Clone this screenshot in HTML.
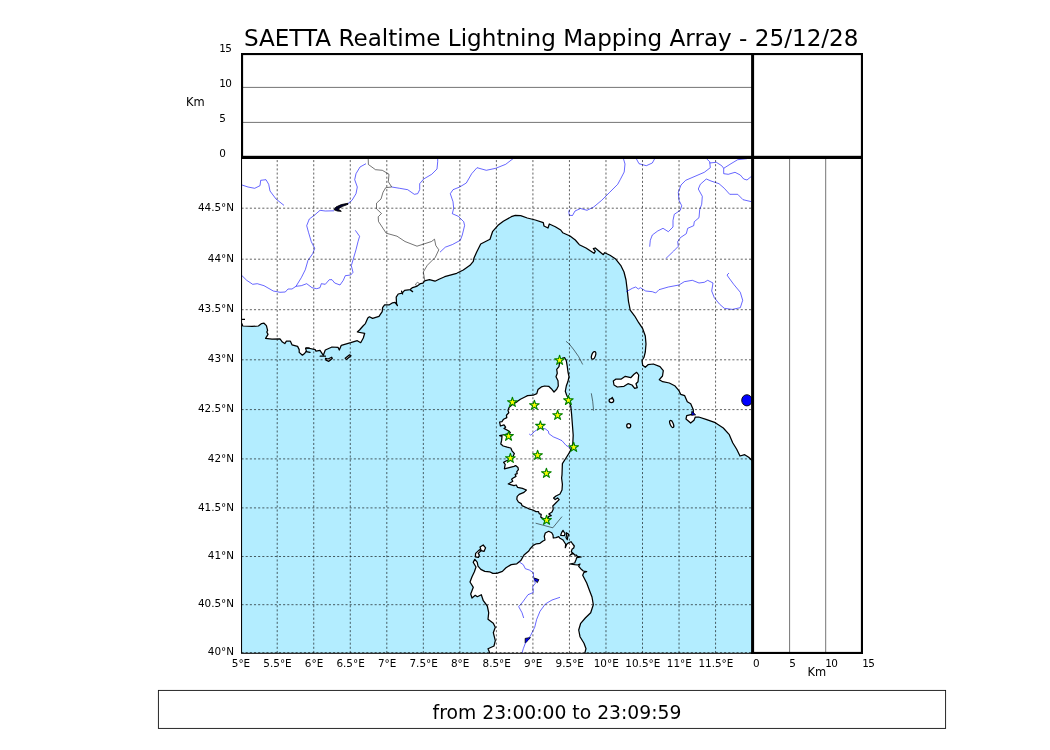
<!DOCTYPE html>
<html lang="en"><head><meta charset="utf-8"><title>SAETTA Realtime Lightning Mapping Array</title>
<style>html,body{margin:0;padding:0;background:#fff}body{width:1050px;height:750px;position:relative;overflow:hidden}</style>
</head><body>
<svg width="1050" height="750" viewBox="0 0 1050 750" style="position:absolute;left:0;top:0;display:block" font-family='"DejaVu Sans","Liberation Sans",sans-serif' fill="#000">
<rect width="1050" height="750" fill="#fff"/>
<defs><clipPath id="mc"><rect x="241.5" y="157.5" width="511.0" height="495.5"/></clipPath></defs>
<g clip-path="url(#mc)">
<rect x="241.5" y="157.5" width="511.0" height="495.5" fill="#b3edff"/>
<g fill="#fff" stroke="#000" stroke-width="1.25" stroke-linejoin="round">
<path d="M241.6 323.2 L242.8 326.0 L252.0 326.4 L258.4 326.0 L261.6 323.6 L264.0 323.2 L266.4 325.6 L267.6 330.4 L266.8 332.0 L268.0 334.4 L265.6 338.4 L272.0 339.2 L280.0 338.8 L282.4 342.0 L284.8 343.6 L286.4 341.2 L290.4 341.2 L292.0 344.8 L297.6 346.4 L299.2 349.6 L299.2 352.4 L302.4 355.2 L304.8 353.2 L306.4 351.2 L305.6 348.4 L308.0 348.0 L315.2 349.6 L316.0 351.2 L320.0 350.4 L323.3 355.3 L325.3 350.0 L332.0 347.0 L338.0 347.3 L339.3 350.0 L341.3 345.3 L350.7 342.7 L357.3 340.7 L360.7 342.7 L363.3 338.0 L364.7 333.3 L357.3 332.0 L359.5 330.0 L363.0 326.0 L365.4 323.6 L367.8 318.0 L369.4 316.8 L372.6 318.4 L379.0 316.4 L382.2 311.6 L382.6 307.6 L384.6 304.8 L389.4 304.8 L392.6 302.8 L395.0 302.4 L396.6 304.4 L396.2 297.2 L398.2 294.0 L402.2 293.2 L404.6 290.4 L410.2 289.6 L412.6 287.6 L416.6 286.4 L420.6 283.6 L423.0 283.2 L424.6 280.8 L429.4 279.6 L435.0 281.2 L439.0 279.2 L444.7 276.7 L456.7 273.3 L463.3 270.0 L470.0 265.3 L473.3 261.3 L474.0 258.0 L476.7 252.0 L480.7 244.0 L490.0 239.3 L492.7 231.3 L498.0 225.3 L503.3 221.3 L511.3 216.7 L515.3 215.3 L520.7 215.7 L527.3 218.0 L535.3 220.0 L543.3 222.7 L544.0 226.0 L548.0 228.0 L549.3 224.0 L555.3 226.7 L560.7 230.0 L562.7 232.7 L570.0 236.0 L575.3 240.0 L579.3 244.7 L586.0 248.0 L594.0 253.3 L595.3 251.3 L593.3 248.7 L595.3 248.0 L603.3 254.7 L604.7 252.7 L610.0 255.3 L615.3 258.7 L620.7 265.3 L624.0 272.0 L626.0 280.0 L627.3 290.7 L628.5 301.5 L630.2 310.0 L634.7 316.0 L638.7 322.7 L642.7 328.7 L645.3 336.0 L646.0 344.0 L645.3 352.0 L644.0 357.3 L642.0 360.7 L642.7 365.3 L645.3 367.3 L648.0 364.7 L653.3 364.0 L660.0 366.7 L663.3 370.7 L662.5 376.0 L659.3 379.7 L662.7 381.7 L669.3 383.0 L674.7 385.7 L678.7 390.3 L680.7 394.3 L684.7 395.7 L687.3 401.7 L690.7 403.7 L693.3 409.7 L693.3 413.7 L692.0 414.3 L686.7 415.7 L686.0 419.0 L690.7 423.0 L694.0 420.3 L695.3 417.0 L698.7 417.0 L706.0 419.3 L715.3 422.7 L723.3 428.0 L729.3 434.7 L732.7 442.7 L736.7 449.3 L740.0 456.0 L744.7 454.7 L748.7 457.3 L752.5 461.0 L760.0 461.0 L760.0 150.0 L235.0 150.0 L235.0 323.2 Z"/>
<path d="M562.7 358.0 L564.7 357.7 L566.3 360.7 L567.3 366.7 L568.0 372.0 L569.0 376.7 L568.0 381.3 L566.3 386.0 L565.3 391.3 L566.7 395.3 L568.2 398.5 L570.8 406.4 L571.6 414.4 L572.4 424.8 L573.2 435.2 L572.8 443.6 L570.0 451.6 L566.0 458.0 L562.4 463.6 L562.0 474.8 L561.6 478.0 L562.4 484.4 L562.0 490.0 L560.0 494.0 L556.0 496.0 L553.6 498.0 L555.2 499.6 L557.6 498.0 L559.2 499.6 L556.0 502.8 L552.8 506.0 L553.2 509.2 L552.0 512.0 L548.8 514.0 L551.2 515.6 L548.8 516.4 L547.5 518.5 L544.5 519.0 L542.4 518.0 L540.8 517.2 L541.2 514.4 L539.2 513.6 L538.4 511.6 L536.0 511.6 L532.8 510.0 L528.8 508.8 L525.6 507.2 L522.0 505.6 L521.2 503.6 L518.4 502.0 L516.8 499.2 L517.2 496.4 L519.2 494.4 L524.0 492.4 L526.4 490.0 L522.4 488.4 L517.6 487.4 L516.2 485.0 L514.0 485.6 L511.4 484.8 L508.2 484.0 L512.8 481.2 L511.6 479.2 L513.2 478.0 L516.0 476.4 L515.2 474.4 L517.2 473.6 L516.8 471.6 L518.4 469.6 L518.0 467.6 L515.6 465.6 L514.0 466.4 L509.2 467.6 L504.4 468.8 L505.2 464.4 L503.6 462.4 L506.0 461.0 L509.5 459.5 L513.0 456.5 L514.4 453.6 L512.0 450.8 L510.8 448.0 L507.2 447.2 L503.2 446.0 L500.8 444.0 L501.6 440.4 L502.0 436.4 L499.6 435.6 L505.0 434.5 L510.4 432.8 L509.2 431.2 L504.0 428.4 L505.6 427.2 L504.0 424.8 L500.4 426.0 L499.6 422.0 L502.0 421.6 L503.6 419.2 L506.8 417.6 L506.4 415.2 L508.8 412.8 L508.0 410.4 L509.2 407.2 L512.5 404.5 L517.2 401.6 L520.4 399.2 L524.4 397.2 L527.6 395.6 L533.2 395.2 L536.8 393.6 L538.0 389.5 L541.3 386.9 L544.7 386.0 L548.7 386.3 L551.3 388.7 L554.0 392.0 L556.7 389.3 L558.3 386.0 L558.0 380.7 L556.0 376.7 L557.3 373.3 L556.7 369.3 L559.0 366.7 L559.3 364.3 L560.0 361.0 Z"/>
<path d="M474.8 559.4 L477.2 562.2 L478.0 566.2 L480.8 569.4 L484.8 571.4 L489.6 571.8 L492.8 573.4 L496.8 573.4 L502.4 571.4 L506.0 567.8 L511.2 564.6 L516.8 563.8 L520.8 560.6 L524.0 555.0 L528.8 551.0 L530.0 549.0 L533.2 545.4 L536.4 543.8 L540.0 543.3 L542.7 541.3 L545.0 540.0 L544.3 536.3 L545.3 533.0 L548.7 531.3 L551.7 532.7 L553.0 535.0 L553.3 538.0 L556.0 537.7 L558.7 536.7 L560.0 538.3 L562.7 539.7 L564.3 542.0 L565.7 544.3 L565.3 547.7 L566.7 544.3 L568.7 542.7 L571.0 541.7 L572.7 544.0 L574.3 546.0 L573.7 548.0 L572.0 549.3 L571.3 551.7 L572.7 553.0 L570.0 555.3 L573.3 553.3 L574.7 555.0 L576.3 555.0 L577.3 556.3 L581.3 557.0 L576.7 557.7 L576.0 559.7 L574.7 563.0 L569.7 564.0 L574.7 564.7 L577.3 565.0 L580.0 564.0 L578.7 566.3 L580.7 568.7 L583.3 571.0 L586.7 571.7 L584.0 572.3 L582.7 575.3 L586.7 583.0 L589.5 590.5 L592.0 597.0 L593.3 604.7 L590.7 612.7 L585.3 618.0 L580.7 623.3 L578.7 630.0 L580.0 636.7 L584.0 643.3 L586.0 648.7 L584.7 653.5 L490.0 653.5 L488.0 648.7 L494.0 646.0 L495.3 640.7 L493.3 632.7 L495.3 627.3 L493.3 623.3 L488.0 619.3 L488.7 612.7 L487.3 606.0 L483.3 600.7 L481.3 594.7 L477.3 596.7 L475.3 595.3 L472.0 598.0 L470.7 594.0 L473.3 587.3 L470.0 582.0 L472.0 576.7 L474.4 571.8 L476.0 567.0 L473.2 562.2 Z"/>
<path d="M613.3 381.0 L616.0 379.0 L621.3 379.0 L625.3 376.3 L630.7 377.7 L634.0 374.3 L636.7 372.3 L638.7 375.0 L638.0 381.7 L636.0 383.7 L637.3 387.7 L634.7 388.3 L632.0 385.0 L628.0 383.7 L624.0 386.3 L617.3 387.0 L614.0 385.0 Z"/>
<path d="M480.0 547.0 L483.2 545.0 L485.6 547.8 L484.0 551.4 L481.2 550.6 Z"/>
<path d="M479.6 549.6 L475.6 553.4 L475.4 556.8 L478.4 557.4 L479.4 555.0 L478.2 553.4 L481.0 550.8 Z"/>
<path d="M560.7 535.3 L561.6 532.6 L563.0 530.3 L565.0 533.7 L564.3 535.7 Z"/>
<path d="M566.3 532.7 L568.7 534.3 L567.7 537.0 L567.3 539.7 L566.0 537.7 L566.6 535.0 Z"/>
<path d="M325.5 358.3 L328.0 359.0 L331.7 357.2 L332.3 358.6 L328.8 361.3 L326.0 360.2 Z"/>
<path d="M345.2 358.2 L349.6 354.8 L351.0 355.8 L346.4 359.4 Z"/>
<path d="M611.6 398.6 L612.2 397.4 L612.8 398.6 Z"/>
<ellipse cx="593.6" cy="355.3" rx="1.9" ry="3.9" transform="rotate(18 593.6 355.3)"/>
<ellipse cx="611.4" cy="400.6" rx="2.3" ry="2.0" transform="rotate(0 611.4 400.6)"/>
<ellipse cx="628.7" cy="425.7" rx="2.0" ry="2.2" transform="rotate(0 628.7 425.7)"/>
<ellipse cx="671.7" cy="424.0" rx="1.6" ry="3.8" transform="rotate(-22 671.7 424.0)"/>
</g>
<path d="M306 347.8 L309.3 348.2 M306.2 351.6 L310 352.4 M320.2 356.2 L325.4 356.2 M396 303 L397.4 305.6 M401.6 291.2 L402.6 294 M410.4 290 L412.6 291.6" stroke="#000" stroke-width="1.3" fill="none" stroke-linecap="round"/>
<path d="M241.5 319.3 H245" stroke="#000" stroke-width="1.2" fill="none"/>
<g fill="#0000ff" stroke="#000" stroke-width="0.9" stroke-linejoin="round">
<ellipse cx="746.9" cy="400.3" rx="5.2" ry="5.6"/>
<path d="M691.8 411.3 L695.6 414.8 L691.6 415.3 Z"/>
<path d="M534.2 578 L538.8 579.6 L537.4 582.6 L535 580.6 Z"/>
<path d="M525.2 638.4 L530.4 637.6 L528 640.4 L525.2 643 Z"/>
</g>
<path d="M348 203.3 L341.3 204.6 L336 207 L334 209.7 L337.3 211 L341.3 211.3 L338 209 L342.7 206.3 L348 204.3 Z" fill="#000030" stroke="#000" stroke-width="0.9" stroke-linejoin="round"/>
<g fill="none" stroke="#000" stroke-width="0.55" stroke-linejoin="round">
<path d="M368.2 158.5 L368.4 164.5 L375.5 169.7 L382.3 170.3 L389.0 174.3 L388.3 181.7 L391.7 187.0 L385.7 187.7 L383.0 192.3 L381.0 199.0 L376.5 203.2 L376.5 208.8 L381.5 213.5 L378.2 216.8 L378.5 221.5 L386.2 233.2 L397.0 236.2 L405.0 241.5 L417.0 246.2 L431.5 241.5 L434.5 239.2 L435.8 245.5 L438.8 249.8 L435.3 257.3 L427.3 265.3 L423.3 272.0 L424.7 280.0"/>
<path d="M416.5 286.2 L415.5 284.0 L417.5 282.4 L419.6 283.6"/>
<path d="M566.0 341.3 L569.3 344.0 L574.0 350.0 L578.7 356.7 L582.7 364.5"/>
<path d="M591.3 393.3 L592.7 401.3 L593.6 410.7"/>
<path d="M535.6 523.2 L552.8 527.8 L562.0 516.6"/>
</g>
<g fill="none" stroke="#0000ff" stroke-width="0.6" stroke-linejoin="round">
<path d="M242.0 185.0 L248.0 187.0 L254.7 188.3 L260.0 185.7 L260.7 180.3 L266.0 179.7 L268.7 184.3 L270.0 191.0 L276.0 199.0 L284.0 205.4"/>
<path d="M366.0 163.7 L360.0 167.0 L356.0 173.7 L354.7 179.7 L357.3 187.0 L356.0 193.7 L352.0 200.3 L348.0 203.5"/>
<path d="M334.0 210.8 L325.3 211.0 L320.0 210.3 L314.7 215.0 L309.3 219.0 L306.7 225.7 L308.5 232.3 L311.3 241.7 L314.7 248.3 L312.7 253.7 L308.0 260.3 L305.3 269.7 L301.3 277.7 L296.0 286.3"/>
<path d="M242.0 275.7 L246.7 280.3 L252.7 284.3 L257.3 283.7 L264.0 285.7 L273.3 291.0 L280.0 292.3 L285.3 292.0 L288.0 289.0 L292.0 289.0 L296.0 286.3 L301.3 285.7 L306.7 283.7 L312.0 287.7 L316.7 288.7 L320.0 287.7 L321.3 283.7 L325.3 284.3 L329.3 279.7 L332.0 279.7 L334.7 283.0 L340.0 285.0 L343.3 280.3 L345.3 275.7 L350.7 275.0 L353.0 272.3 L351.3 265.7 L353.3 259.0 L356.0 249.7 L358.0 241.7 L359.6 236.3 L355.3 230.3"/>
<path d="M391.7 187.0 L399.7 188.3 L407.7 189.7 L414.3 194.3 L417.7 193.7 L419.7 189.7 L419.7 183.7 L423.7 179.0 L431.7 174.3 L437.0 169.0 L437.7 161.7 L437.7 158.5"/>
<path d="M513.0 158.7 L505.7 164.3 L495.7 168.3 L486.3 170.3 L477.0 167.7 L471.7 173.7 L466.3 183.0 L459.7 187.0 L453.0 189.7 L450.3 193.7 L453.0 201.7 L453.7 208.3 L452.3 213.7 L458.3 216.3 L463.7 221.7 L464.6 225.5 L462.3 235.0 L460.3 240.3 L452.5 244.5 L445.3 247.2 L440.0 252.2"/>
<path d="M623.4 158.5 L625.0 164.0 L624.2 172.0 L620.3 179.5 L617.7 184.3 L609.7 192.3 L601.7 200.3 L593.7 207.0 L587.0 210.3 L580.5 208.5 L575.0 211.0 L572.5 215.5 L569.3 215.3 L568.8 211.3 L570.0 209.3"/>
<path d="M636.3 158.7 L639.0 163.7 L646.3 165.7 L652.3 163.0 L654.7 158.7"/>
<path d="M706.3 158.5 L709.7 161.7 L710.3 167.7 L704.3 172.3 L695.0 176.3 L685.7 180.3 L681.0 185.0 L678.3 192.3 L679.0 200.3 L681.7 205.7 L680.3 210.3 L674.3 214.3 L673.0 220.3 L673.0 227.0 L668.3 231.7 L663.0 228.3 L657.7 231.0 L652.3 235.0 L650.3 240.3 L649.7 246.7"/>
<path d="M709.7 163.0 L716.3 162.3 L721.7 165.7 L723.7 168.3 L731.0 163.7 L737.7 159.7 L747.0 158.7"/>
<path d="M723.7 168.3 L723.7 173.7 L728.3 174.3 L735.0 172.3 L740.3 175.0 L743.7 179.0 L747.0 180.0 L751.5 176.3"/>
<path d="M751.5 201.7 L743.0 199.7 L737.7 194.3 L729.7 194.3 L724.3 188.3 L719.0 183.7 L711.0 181.0 L706.3 179.0 L700.3 184.3 L698.3 189.0 L702.3 196.3 L701.7 204.3 L699.7 209.7 L699.0 217.7 L694.3 221.7 L693.7 225.7 L687.7 228.3 L686.3 233.7 L680.3 237.7 L677.7 241.7 L678.3 246.3 L673.7 251.0 L665.7 258.7"/>
<path d="M626.3 291.7 L632.3 288.3 L635.7 287.0 L638.3 289.0 L640.3 287.7 L645.7 291.0 L652.3 291.7 L655.7 293.0 L659.0 289.7 L668.3 287.0 L679.0 285.0 L684.3 281.7 L692.3 280.3 L699.0 283.0 L704.3 282.3 L707.7 280.3 L713.0 283.0 L711.7 291.0 L714.3 297.7 L719.7 304.3 L724.3 308.3 L732.3 309.4 L740.3 307.7 L742.7 300.3 L740.3 292.3 L733.7 284.3 L728.3 277.0 L727.0 275.0 L729.0 273.0"/>
<path d="M529.2 434.0 L530.8 435.2 L534.8 431.2 L538.0 429.2 L541.0 428.2 L545.2 428.8 L548.4 431.2 L548.8 433.6 L553.2 436.8 L558.0 438.8 L562.0 440.7 L566.0 445.3 L571.3 448.7"/>
<path d="M519.3 562.0 L523.3 564.7 L525.3 568.7 L529.3 570.0 L533.3 572.7 L533.6 577.3 L535.3 583.3 L532.7 586.7 L533.3 592.5 L528.0 594.7 L522.7 602.0 L518.7 606.7 L522.0 612.7 L523.7 618.0"/>
<path d="M560.0 597.3 L552.0 600.0 L545.3 604.0 L540.0 611.3 L536.7 619.3 L534.7 627.3 L530.7 635.3 L527.5 640.0 L525.3 643.3 L523.3 648.7 L522.0 653.0"/>
</g>
<g fill="none" stroke="#000" stroke-width="0.62" stroke-dasharray="2.08 2.08">
<path d="M277.21 653.0 V157.5"/>
<path d="M313.74 653.0 V157.5"/>
<path d="M350.27 653.0 V157.5"/>
<path d="M386.80 653.0 V157.5"/>
<path d="M423.33 653.0 V157.5"/>
<path d="M459.86 653.0 V157.5"/>
<path d="M496.39 653.0 V157.5"/>
<path d="M532.92 653.0 V157.5"/>
<path d="M569.45 653.0 V157.5"/>
<path d="M605.98 653.0 V157.5"/>
<path d="M642.51 653.0 V157.5"/>
<path d="M679.04 653.0 V157.5"/>
<path d="M715.57 653.0 V157.5"/>
<path d="M241.5 652.6 H752.5"/>
<path d="M241.5 604.7 H752.5"/>
<path d="M241.5 556.5 H752.5"/>
<path d="M241.5 507.9 H752.5"/>
<path d="M241.5 458.9 H752.5"/>
<path d="M241.5 409.6 H752.5"/>
<path d="M241.5 359.8 H752.5"/>
<path d="M241.5 309.7 H752.5"/>
<path d="M241.5 259.2 H752.5"/>
<path d="M241.5 208.2 H752.5"/>
</g>
<g fill="#ffff00" stroke="#008000" stroke-width="1.1" stroke-linejoin="round">
<polygon points="559.6,355.2 560.7,358.7 564.4,358.7 561.4,360.9 562.6,364.4 559.6,362.2 556.6,364.4 557.8,360.9 554.8,358.7 558.5,358.7"/>
<polygon points="512.4,397.2 513.5,400.7 517.2,400.7 514.2,402.9 515.4,406.4 512.4,404.2 509.4,406.4 510.6,402.9 507.6,400.7 511.3,400.7"/>
<polygon points="534.4,400.2 535.5,403.7 539.2,403.7 536.2,405.9 537.4,409.4 534.4,407.2 531.4,409.4 532.6,405.9 529.6,403.7 533.3,403.7"/>
<polygon points="568.4,395.3 569.5,398.8 573.2,398.8 570.2,401.0 571.4,404.5 568.4,402.3 565.4,404.5 566.6,401.0 563.6,398.8 567.3,398.8"/>
<polygon points="557.6,410.2 558.7,413.7 562.4,413.7 559.4,415.9 560.6,419.4 557.6,417.2 554.6,419.4 555.8,415.9 552.8,413.7 556.5,413.7"/>
<polygon points="540.4,420.9 541.5,424.4 545.2,424.4 542.2,426.6 543.4,430.1 540.4,427.9 537.4,430.1 538.6,426.6 535.6,424.4 539.3,424.4"/>
<polygon points="508.6,431.1 509.7,434.6 513.4,434.6 510.4,436.8 511.6,440.3 508.6,438.1 505.6,440.3 506.8,436.8 503.8,434.6 507.5,434.6"/>
<polygon points="573.7,442.2 574.8,445.7 578.5,445.7 575.5,447.9 576.7,451.4 573.7,449.2 570.7,451.4 571.9,447.9 568.9,445.7 572.6,445.7"/>
<polygon points="537.6,450.2 538.7,453.7 542.4,453.7 539.4,455.9 540.6,459.4 537.6,457.2 534.6,459.4 535.8,455.9 532.8,453.7 536.5,453.7"/>
<polygon points="510.4,453.2 511.5,456.7 515.2,456.7 512.2,458.9 513.4,462.4 510.4,460.2 507.4,462.4 508.6,458.9 505.6,456.7 509.3,456.7"/>
<polygon points="546.4,468.2 547.5,471.7 551.2,471.7 548.2,473.9 549.4,477.4 546.4,475.2 543.4,477.4 544.6,473.9 541.6,471.7 545.3,471.7"/>
<polygon points="546.6,515.2 547.7,518.6 551.4,518.6 548.4,520.8 549.6,524.3 546.6,522.1 543.6,524.3 544.8,520.8 541.8,518.6 545.5,518.6"/>
</g>
</g>
<rect x="241.55" y="157.5" width="510.9" height="495.8" fill="none" stroke="#000" stroke-width="1.04"/>
<g stroke="#000" stroke-width="0.55" fill="none">
<path d="M242 87.4 H752"/><path d="M242 122.4 H752"/>
<path d="M789.6 158 V653"/><path d="M825.7 158 V653"/>
</g>
<g fill="#000">
<rect x="241" y="53" width="622" height="2.1"/>
<rect x="241" y="53" width="2.1" height="105"/>
<rect x="860.9" y="53" width="2.1" height="601"/>
<rect x="241" y="155.8" width="622" height="3.2"/>
<rect x="751.1" y="53" width="3" height="601"/>
<rect x="751.1" y="651.9" width="111.9" height="2.1"/>
</g>
<rect x="158.4" y="690.4" width="787.2" height="38" fill="none" stroke="#111" stroke-width="0.9"/>
<text x="551.2" y="46" font-size="23.1" text-anchor="middle">SAETTA Realtime Lightning Mapping Array - 25/12/28</text>
<text x="557" y="718.6" font-size="18.75" text-anchor="middle">from 23:00:00 to 23:09:59</text>
<text x="219.3" y="51.7" font-size="10.42" text-anchor="start" letter-spacing="-0.7">15</text>
<text x="219.3" y="86.7" font-size="10.42" text-anchor="start" letter-spacing="-0.7">10</text>
<text x="219.3" y="121.7" font-size="10.42" text-anchor="start">5</text>
<text x="219.3" y="156.7" font-size="10.42" text-anchor="start">0</text>
<text x="186" y="105.5" font-size="11.46" text-anchor="start">Km</text>
<text x="753.0" y="666.8" font-size="10.42" text-anchor="start">0</text>
<text x="789.3" y="666.8" font-size="10.42" text-anchor="start">5</text>
<text x="825.3" y="666.8" font-size="10.42" text-anchor="start" letter-spacing="-0.7">10</text>
<text x="862.3" y="666.8" font-size="10.42" text-anchor="start" letter-spacing="-0.7">15</text>
<text x="807.5" y="675.8" font-size="11.46" text-anchor="start">Km</text>
<text x="234.1" y="655.2" font-size="10.42" text-anchor="end">40°N</text>
<text x="234.1" y="607.3000000000001" font-size="10.42" text-anchor="end">40.5°N</text>
<text x="234.1" y="559.1" font-size="10.42" text-anchor="end">41°N</text>
<text x="234.1" y="510.5" font-size="10.42" text-anchor="end">41.5°N</text>
<text x="234.1" y="461.5" font-size="10.42" text-anchor="end">42°N</text>
<text x="234.1" y="412.20000000000005" font-size="10.42" text-anchor="end">42.5°N</text>
<text x="234.1" y="362.40000000000003" font-size="10.42" text-anchor="end">43°N</text>
<text x="234.1" y="312.3" font-size="10.42" text-anchor="end">43.5°N</text>
<text x="234.1" y="261.8" font-size="10.42" text-anchor="end">44°N</text>
<text x="234.1" y="210.79999999999998" font-size="10.42" text-anchor="end">44.5°N</text>
<text x="240.98000000000002" y="666.8" font-size="10.42" text-anchor="middle">5°E</text>
<text x="277.51000000000005" y="666.8" font-size="10.42" text-anchor="middle">5.5°E</text>
<text x="314.04" y="666.8" font-size="10.42" text-anchor="middle">6°E</text>
<text x="350.57" y="666.8" font-size="10.42" text-anchor="middle">6.5°E</text>
<text x="387.1" y="666.8" font-size="10.42" text-anchor="middle">7°E</text>
<text x="423.63000000000005" y="666.8" font-size="10.42" text-anchor="middle">7.5°E</text>
<text x="460.16" y="666.8" font-size="10.42" text-anchor="middle">8°E</text>
<text x="496.69" y="666.8" font-size="10.42" text-anchor="middle">8.5°E</text>
<text x="533.22" y="666.8" font-size="10.42" text-anchor="middle">9°E</text>
<text x="569.75" y="666.8" font-size="10.42" text-anchor="middle">9.5°E</text>
<text x="606.28" y="666.8" font-size="10.42" text-anchor="middle">10°E</text>
<text x="642.81" y="666.8" font-size="10.42" text-anchor="middle">10.5°E</text>
<text x="679.3399999999999" y="666.8" font-size="10.42" text-anchor="middle">11°E</text>
<text x="715.8699999999999" y="666.8" font-size="10.42" text-anchor="middle">11.5°E</text>
</svg>
</body></html>
